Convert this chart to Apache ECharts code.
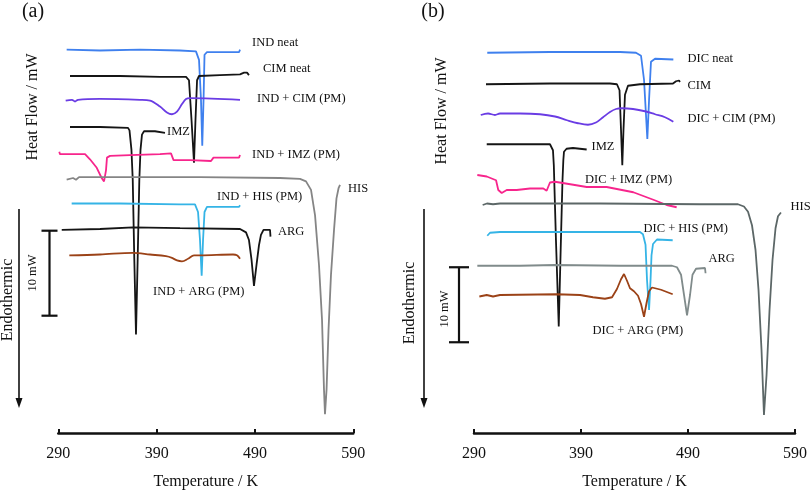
<!DOCTYPE html>
<html><head><meta charset="utf-8">
<script src="https://cdn.jsdelivr.net/npm/echarts@6/dist/echarts.min.js"></script>
<style>html,body{margin:0;padding:0;background:#fff}#c{width:810px;height:490px}</style>
</head><body><div id="c"></div>
<script>
// ---- x axis ticks (K) ----
const xTicks = [290, 390, 490, 590];

// ---- Panel (a): [Temperature K, heat flow mW (offset stacked)] ----
const a_INDneat = [[298.5,45.1],[332.4,45.0],[373.1,45.1],[413.8,45.0],[430.0,44.9],[433.1,43.9],[435.1,39.2],[436.4,33.8],[437.7,39.2],[438.7,44.5],[441.2,44.8],[454.4,44.8],[473.8,44.8],[474.8,45.1]];
const a_CIMneat = [[301.9,42.0],[352.7,42.0],[393.4,41.9],[419.9,41.9],[422.9,41.5],[425.5,36.8],[428.0,31.8],[429.5,36.8],[431.1,41.5],[433.1,42.0],[454.4,42.1],[474.8,42.2],[478.9,42.4],[481.9,42.4],[483.9,42.1]];
const a_INDCIM = [[297.5,39.1],[303.9,39.2],[307.0,39.0],[310.0,39.2],[332.4,39.3],[373.1,39.2],[383.3,39.1],[393.4,38.4],[400.5,37.7],[405.6,37.5],[410.7,37.8],[415.8,38.7],[419.9,39.3],[423.9,39.4],[474.8,39.2]];
const a_IMZ = [[301.9,36.0],[332.4,36.0],[360.9,35.9],[362.4,35.6],[364.4,33.3],[365.7,29.8],[367.3,20.4],[369.0,11.6],[370.7,20.4],[372.4,29.8],[373.6,33.3],[375.1,35.1],[377.2,35.5],[388.3,35.5],[398.5,35.3]];
const a_INDIMZ = [[291.0,33.1],[291.7,32.8],[317.2,32.8],[322.2,32.2],[329.1,31.2],[334.1,30.0],[336.5,29.6],[338.5,30.9],[339.5,32.4],[342.6,32.6],[362.9,32.7],[393.4,32.8],[404.6,32.9],[407.2,32.1],[423.9,32.1],[445.3,32.0],[447.8,32.4],[473.8,32.4],[474.8,32.7]];
const a_HIS = [[298.5,29.8],[305.0,30.0],[308.0,29.8],[311.1,30.1],[352.7,30.1],[434.1,30.1],[515.5,30.0],[535.8,29.9],[541.9,29.6],[547.0,28.6],[551.1,25.6],[555.1,19.8],[558.2,13.3],[560.2,5.1],[561.2,2.2],[562.8,5.1],[564.8,12.1],[567.3,18.6],[570.4,23.9],[572.9,27.6],[575.0,28.8],[576.5,29.2]];
const a_INDHIS = [[303.6,27.0],[352.7,27.0],[413.8,26.9],[429.0,26.9],[432.1,26.0],[434.1,22.7],[435.8,18.5],[437.2,22.7],[438.7,26.0],[441.2,26.6],[454.4,26.6],[473.8,26.6],[474.8,26.8]];
const a_ARG = [[293.5,23.9],[332.4,24.0],[366.0,24.2],[413.8,24.1],[474.8,24.0],[480.9,23.6],[483.9,22.7],[486.5,20.4],[489.0,17.3],[491.6,19.8],[494.1,22.1],[496.1,23.3],[498.7,23.9],[505.3,23.9],[505.8,23.1]];
const a_INDARG = [[301.2,20.9],[332.4,21.0],[366.0,21.2],[383.3,21.0],[399.5,20.8],[405.6,20.6],[410.7,20.3],[415.8,20.2],[421.9,20.5],[428.0,20.9],[434.1,20.9],[467.7,21.0],[471.7,20.9],[474.8,20.5]];

// ---- Panel (b) ----
const b_DICneat = [[302.4,50.7],[361.0,50.8],[426.5,50.8],[441.4,50.7],[446.1,50.3],[448.9,47.1],[452.0,39.2],[453.6,44.4],[455.4,49.5],[459.2,49.9],[476.3,49.8]];
const b_CIM = [[301.2,46.5],[361.0,46.6],[417.1,46.6],[423.6,46.5],[426.0,45.7],[427.4,40.4],[428.6,35.7],[429.7,40.4],[431.1,45.1],[433.9,46.3],[445.1,46.5],[476.0,46.6],[478.8,46.9],[481.6,47.0],[482.5,46.8]];
const b_DICCIM = [[296.3,42.4],[303.1,42.6],[309.6,42.4],[314.3,42.6],[333.0,42.6],[351.7,42.5],[365.7,42.2],[376.9,41.7],[387.2,41.3],[396.5,41.1],[404.0,41.4],[410.6,42.1],[417.1,42.8],[422.7,43.2],[428.3,43.3],[438.6,43.2],[449.8,42.9],[459.2,42.5],[468.5,42.1],[476.3,41.5]];
const b_IMZ = [[301.9,38.5],[333.0,38.5],[361.0,38.5],[363.8,37.7],[364.6,35.7],[366.6,25.7],[369.2,14.2],[371.0,24.4],[372.7,33.7],[373.5,36.4],[374.1,37.5],[376.5,37.9],[382.5,38.0],[395.3,37.8]];
const b_DICIMZ = [[293.1,34.4],[301.9,34.2],[310.6,33.7],[312.7,32.4],[315.9,32.0],[320.6,32.4],[329.9,32.4],[342.3,32.6],[354.8,32.6],[357.9,32.3],[361.0,33.4],[365.7,33.5],[382.8,33.1],[395.3,32.8],[414.0,32.8],[438.9,32.1],[457.6,31.1],[470.1,30.4],[479.4,30.1]];
const b_HIS = [[298.1,30.4],[302.1,30.6],[307.8,30.5],[314.3,30.6],[407.8,30.6],[501.2,30.5],[536.7,30.5],[542.3,30.2],[546.1,29.5],[549.8,27.7],[553.1,24.4],[555.9,19.1],[558.7,11.1],[561.0,2.4],[563.4,7.7],[566.2,16.4],[569.0,23.1],[571.8,27.3],[574.1,28.9],[576.9,29.4]];
const b_DICHIS = [[302.4,26.3],[305.0,26.7],[314.3,26.8],[370.4,26.8],[445.1,26.8],[447.9,26.5],[450.3,25.1],[451.7,20.4],[453.6,16.4],[455.0,20.4],[455.9,23.7],[457.3,25.2],[461.0,25.8],[475.7,25.7]];
const b_ARG = [[293.1,22.3],[333.0,22.3],[365.7,22.4],[426.5,22.3],[475.1,22.3],[479.7,22.1],[483.5,21.1],[486.3,18.4],[489.1,15.7],[491.9,18.4],[494.2,21.1],[497.5,21.9],[505.9,22.0],[506.4,21.3]];
const b_DICARG = [[295.0,18.2],[301.9,18.4],[307.8,18.2],[314.3,18.4],[367.3,18.5],[389.1,18.4],[401.2,18.1],[412.4,17.9],[419.0,18.1],[423.6,19.2],[427.4,20.5],[430.2,21.2],[433.0,20.3],[435.8,19.3],[439.5,18.9],[443.3,18.3],[446.1,17.2],[448.9,15.5],[451.2,17.3],[453.6,18.9],[456.4,19.4],[464.8,19.1],[475.7,18.5]];

// scale bar (10 mW) top values
const scaleTopA = 23.8, scaleTopB = 22.1, scaleSpan = 10;

const FONT = '"Liberation Serif","Times New Roman",serif';
const C = {blue:'#3f80ee', black:'#151515', purple:'#6a3ce4', pink:'#f7258c', grey:'#858585', lblue:'#35b4e6', brown:'#9b4217', hisB:'#5c6767', argB:'#808b8b'};

function ser(name, data, color, g, smooth){
  return {type:'line', name, data, xAxisIndex:g, yAxisIndex:g, showSymbol:false, symbol:'none',
    smooth: smooth ? 0.35 : false, lineStyle:{color, width:1.8}, silent:true, animation:false};
}

const chart = echarts.init(document.getElementById('c'), null, {renderer:'canvas'});
const xAx = (g) => ({gridIndex:g, type:'value', min:290, max:590, interval:100,
  name:'Temperature / K', nameLocation:'middle', nameGap:41,
  nameTextStyle:{fontFamily:FONT, fontSize:16, color:'#111'},
  axisLine:{lineStyle:{color:'#111', width:2.5}},
  axisTick:{inside:true, length:4, lineStyle:{color:'#111', width:2}},
  axisLabel:{fontFamily:FONT, fontSize:16, color:'#111', margin:13, formatter:v=>xTicks.includes(v)?String(v):''},
  splitLine:{show:false}});
chart.setOption({
  animation:false,
  grid:[{left:58.3, width:295, top:25, height:408, containLabel:false, outerBoundsMode:'none'},
        {left:474, width:321, top:20.5, height:412.5, containLabel:false, outerBoundsMode:'none'}],
  xAxis:[xAx(0), xAx(1)],
  yAxis:[{gridIndex:0, type:'value', min:0, max:48, show:false},{gridIndex:1, type:'value', min:0, max:55, show:false}],
  series:[
    ser('IND neat', a_INDneat, C.blue, 0), ser('CIM neat', a_CIMneat, C.black, 0),
    ser('IND + CIM (PM)', a_INDCIM, C.purple, 0, true), ser('IMZ', a_IMZ, C.black, 0),
    ser('IND + IMZ (PM)', a_INDIMZ, C.pink, 0), ser('HIS', a_HIS, C.grey, 0),
    ser('IND + HIS (PM)', a_INDHIS, C.lblue, 0), ser('ARG', a_ARG, C.black, 0),
    ser('IND + ARG (PM)', a_INDARG, C.brown, 0, true),
    ser('DIC neat', b_DICneat, C.blue, 1), ser('CIM', b_CIM, C.black, 1),
    ser('DIC + CIM (PM)', b_DICCIM, C.purple, 1, true), ser('IMZ', b_IMZ, C.black, 1),
    ser('DIC + IMZ (PM)', b_DICIMZ, C.pink, 1), ser('HIS', b_HIS, C.hisB, 1),
    ser('DIC + HIS (PM)', b_DICHIS, C.lblue, 1), ser('ARG', b_ARG, C.argB, 1),
    ser('DIC + ARG (PM)', b_DICARG, C.brown, 1)
  ]
});

function txt(x, y, s, size, rot, align){
  return {type:'text', x, y, rotation: rot||0, silent:true,
    style:{text:s, fontFamily:FONT, fontSize:size, fill:'#111', textAlign:align||'left', textVerticalAlign:'middle'}};
}
function line(x1,y1,x2,y2,w){ return {type:'line', silent:true, shape:{x1,y1,x2,y2}, style:{stroke:'#111', lineWidth:w||2}}; }
function arrow(x, y1, y2){
  return [line(x, y1, x, y2-8, 1.6),
    {type:'polygon', silent:true, shape:{points:[[x-3.5,y2-10],[x+3.5,y2-10],[x,y2]]}, style:{fill:'#111'}}];
}
function scaleBar(g, top, x, cap){
  const yT = chart.convertToPixel({gridIndex:g}, [290, top])[1];
  const yB = chart.convertToPixel({gridIndex:g}, [290, top - scaleSpan])[1];
  return [line(x, yT, x, yB, 2.2), line(x-cap, yT, x+cap, yT, 2.2), line(x-cap, yB, x+cap, yB, 2.2)];
}
const R = Math.PI/2;
const g = [
  txt(33, 12, '(a)', 20, 0, 'center'), txt(433, 12, '(b)', 20, 0, 'center'),
  txt(33, 107, 'Heat Flow / mW', 16, R, 'center'), txt(441.5, 111, 'Heat Flow / mW', 16, R, 'center'),
  txt(7.5, 300, 'Endothermic', 16, R, 'center'), txt(410, 303, 'Endothermic', 16, R, 'center'),
  txt(33, 273, '10 mW', 12.5, R, 'center'), txt(445, 309, '10 mW', 12.5, R, 'center'),
  ...arrow(19, 209, 408), ...arrow(424, 209, 408),
  ...scaleBar(0, scaleTopA, 49.5, 8), ...scaleBar(1, scaleTopB, 459, 10),
  // panel a labels
  txt(252, 43, 'IND neat', 12.5), txt(263, 68.5, 'CIM neat', 12.5), txt(257, 98.5, 'IND + CIM (PM)', 12.5),
  txt(167, 132, 'IMZ', 12.5), txt(252, 155, 'IND + IMZ (PM)', 12.5), txt(348, 188.5, 'HIS', 12.5),
  txt(217, 196.5, 'IND + HIS (PM)', 12.5), txt(278, 231.5, 'ARG', 12.5), txt(153, 291.5, 'IND + ARG (PM)', 12.5),
  // panel b labels
  txt(687.5, 59, 'DIC neat', 12.5), txt(687.5, 86, 'CIM', 12.5), txt(687.5, 118.5, 'DIC + CIM (PM)', 12.5),
  txt(591.5, 146.5, 'IMZ', 12.5), txt(585, 179.5, 'DIC + IMZ (PM)', 12.5), txt(790.5, 206.5, 'HIS', 12.5),
  txt(643.5, 228.5, 'DIC + HIS (PM)', 12.5), txt(708.5, 258.5, 'ARG', 12.5), txt(592.5, 330.5, 'DIC + ARG (PM)', 12.5)
];
chart.setOption({graphic: g});
</script></body></html>
